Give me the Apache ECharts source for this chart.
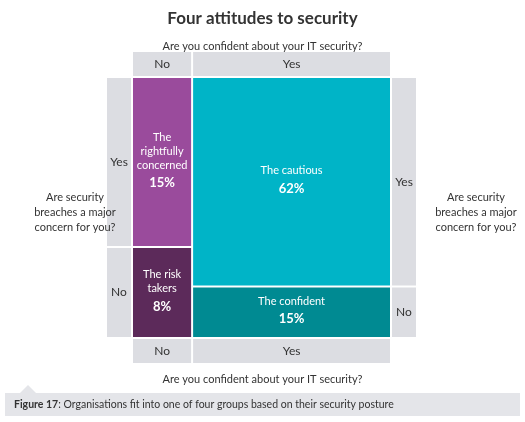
<!DOCTYPE html>
<html>
<head>
<meta charset="utf-8">
<script src="https://cdn.jsdelivr.net/npm/echarts@6/dist/echarts.min.js"></script>
<style>html,body{margin:0;padding:0;background:#fff}#chart{width:525px;height:422px}</style>
</head>
<body>
<div id="chart"></div>
<script>
// ---- Data ----
const confidentCats = ['No', 'Yes'];          // columns
const concernCats = ['Yes', 'No'];            // rows (top to bottom)
const groupNames = [
  ['The\nrightfully\nconcerned', 'The risk\ntakers'],
  ['The cautious', 'The confident']
];
const shares = [[15, 8], [62, 15]];           // shares[col][row], %
const cellColors = [['#9a4b9c', '#5c2a5a'], ['#00b4c7', '#008a92']];

const FONT = 'Lato, "Open Sans", sans-serif';
const GRAY = '#dcdde2';
const HDR = 26, GAP = 2;

// build mosaic rects in data units (0..100)
const total = shares.flat().reduce((a, b) => a + b, 0);
const cells = [];
const columns = [];
let x = 0;
shares.forEach((col, ci) => {
  const colSum = col.reduce((a, b) => a + b, 0);
  const w = colSum / total * 100;
  let y = 0;
  const rows = [];
  col.forEach((v, ri) => {
    const h = v / colSum * 100;
    cells.push([x, x + w, y, y + h, ci, ri]);
    rows.push([y, y + h]);
    y += h;
  });
  columns.push({ x0: x, x1: x + w, rows, ci });
  x += w;
});

const chart = echarts.init(document.getElementById('chart'));

function headerRect(x0, y0, x1, y1, label) {
  return {
    type: 'rect',
    shape: { x: x0, y: y0, width: x1 - x0, height: y1 - y0 },
    style: { fill: GRAY },
    textContent: { style: { text: label, fill: '#333', font: '12px ' + FONT } },
    textConfig: { position: 'inside' }
  };
}

const option = {
  animation: false,
  title: [
    { text: 'Four attitudes to security', left: 'center', top: 5,
      textStyle: { fontFamily: FONT, fontSize: 17, fontWeight: 'bold', color: '#333' } },
    { text: 'Are you confident about your IT security?', left: 'center', top: 36,
      textStyle: { fontFamily: FONT, fontSize: 11, fontWeight: 'normal', color: '#333' } },
    { text: 'Are you confident about your IT security?', left: 'center', top: 369,
      textStyle: { fontFamily: FONT, fontSize: 11, fontWeight: 'normal', color: '#333' } },
    { text: 'Are security\nbreaches a major\nconcern for you?', left: 70, top: 185, textAlign: 'center',
      textStyle: { fontFamily: FONT, fontSize: 11, fontWeight: 'normal', color: '#333', lineHeight: 15 } },
    { text: 'Are security\nbreaches a major\nconcern for you?', left: 471, top: 185, textAlign: 'center',
      textStyle: { fontFamily: FONT, fontSize: 11, fontWeight: 'normal', color: '#333', lineHeight: 15 } }
  ],
  graphic: [
    { type: 'rect', shape: { x: 5, y: 393, width: 515, height: 23 }, style: { fill: '#e4e5e9' } },
    { type: 'polygon', shape: { points: [[20, 393], [28, 385], [36, 393]] }, style: { fill: '#e4e5e9' } },
    { type: 'text', x: 14, y: 399, style: {
        text: '{b|Figure 17}: Organisations fit into one of four groups based on their security posture',
        font: '10.5px ' + FONT, fill: '#333',
        rich: { b: { fontWeight: 'bold', fontFamily: FONT, fontSize: 10.5, fill: '#333' } } } }
  ],
  grid: { left: 133, top: 78, width: 257, height: 259 },
  xAxis: { type: 'value', min: 0, max: 100, show: false },
  yAxis: { type: 'value', min: 0, max: 100, inverse: true, show: false },
  series: [
    {
      type: 'custom',
      data: cells,
      encode: { x: [0, 1], y: [2, 3] },
      renderItem: (params, api) => {
        const p0 = api.coord([api.value(0), api.value(2)]);
        const p1 = api.coord([api.value(1), api.value(3)]);
        const ci = api.value(4), ri = api.value(5);
        const x0 = p0[0] + (ci > 0 ? GAP / 2 : 0), x1 = p1[0] - (ci < shares.length - 1 ? GAP / 2 : 0);
        const y0 = p0[1] + (ri > 0 ? GAP / 2 : 0), y1 = p1[1] - (ri < shares[ci].length - 1 ? GAP / 2 : 0);
        return {
          type: 'rect',
          shape: { x: x0, y: y0, width: x1 - x0, height: y1 - y0 },
          style: { fill: cellColors[ci][ri] },
          textContent: {
            style: {
              text: groupNames[ci][ri] + '\n{p|' + shares[ci][ri] + '%}',
              fill: '#fff', font: '11px ' + FONT, align: 'center', lineHeight: 14,
              rich: { p: { fontSize: 13, fontWeight: 'bold', fill: '#fff', fontFamily: FONT, lineHeight: 22 } }
            }
          },
          textConfig: { position: 'inside' }
        };
      }
    },
    {
      type: 'custom',
      data: columns.map(c => [c.x0, c.x1, c.ci]),
      encode: { x: [0, 1] },
      renderItem: (params, api) => {
        const ci = api.value(2);
        const col = columns[ci];
        const top = api.coord([0, 0])[1], bot = api.coord([0, 100])[1];
        const x0 = api.coord([col.x0, 0])[0] + (ci > 0 ? GAP / 2 : 0);
        const x1 = api.coord([col.x1, 0])[0] - (ci < columns.length - 1 ? GAP / 2 : 0);
        const children = [
          headerRect(x0, top - HDR, x1, top - GAP, confidentCats[ci]),
          headerRect(x0, bot + GAP, x1, bot + HDR, confidentCats[ci])
        ];
        const side = ci === 0 ? -1 : (ci === columns.length - 1 ? 1 : 0);
        if (side) {
          col.rows.forEach((r, ri) => {
            const y0 = api.coord([0, r[0]])[1] + (ri > 0 ? GAP / 2 : 0);
            const y1 = api.coord([0, r[1]])[1] - (ri < col.rows.length - 1 ? GAP / 2 : 0);
            const sx0 = side < 0 ? x0 - HDR : x1 + GAP;
            const sx1 = side < 0 ? x0 - GAP : x1 + HDR;
            children.push(headerRect(sx0, y0, sx1, y1, concernCats[ri]));
          });
        }
        return { type: 'group', children };
      }
    }
  ]
};

chart.setOption(option);
</script>
</body>
</html>
